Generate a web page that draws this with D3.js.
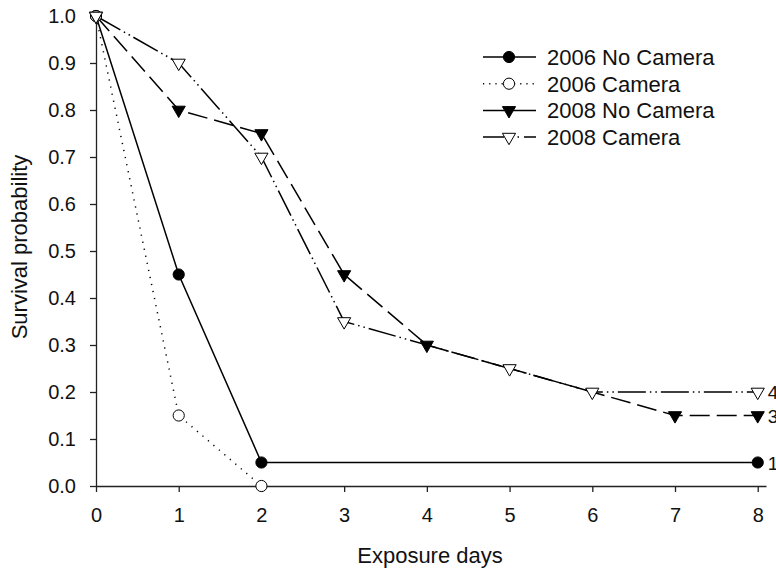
<!DOCTYPE html>
<meta charset="utf-8">
<style>
body { margin: 0; background: #fff; }
svg { font-family: "Liberation Sans", Arial, sans-serif; }
.axis path, .axis line { stroke: #222; stroke-width: 1.3px; }
.axis text { font-size: 20px; fill: #111; }
.series { fill: none; stroke: #000; stroke-width: 1.5px; }
.lbl { font-size: 22px; fill: #111; }
.end { font-size: 19px; fill: #111; }
</style>
<svg width="776" height="570"></svg>
<script src="https://d3js.org/d3.v7.min.js"></script>
<script>

// survival data
var noCam06 = [[0, 1.0], [1, 0.45], [2, 0.05], [8, 0.05]];
var cam06   = [[0, 1.0], [1, 0.15], [2, 0.0]];
var noCam08 = [[0, 1.0], [1, 0.80], [2, 0.75], [3, 0.45], [4, 0.30], [7, 0.15], [8, 0.15]];
var cam08   = [[0, 1.0], [1, 0.90], [2, 0.70], [3, 0.35], [5, 0.25], [6, 0.20], [8, 0.20]];
var seriesNames = ["2006 No Camera", "2006 Camera", "2008 No Camera", "2008 Camera"];
var endLabels = ["1", "", "3", "4"];
var xTicks = [0, 1, 2, 3, 4, 5, 6, 7, 8];
var yTicks = [0, 0.1, 0.2, 0.3, 0.4, 0.5, 0.6, 0.7, 0.8, 0.9, 1.0];

var svg = d3.select("svg");

var x = d3.scaleLinear().domain([0, 8.1]).range([96, 766]);
var y = d3.scaleLinear().domain([0, 1]).range([486, 16]);

var series = [
  { name: seriesNames[0], data: noCam06, dash: null, legDash: null, marker: "circle", fill: "#000", end: endLabels[0] },
  { name: seriesNames[1], data: cam06, dash: "1.2,6", legDash: "1.2,5", marker: "circle", fill: "#fff", end: endLabels[1] },
  { name: seriesNames[2], data: noCam08, dash: "20,7", legDash: null, marker: "tri", fill: "#000", end: endLabels[2] },
  { name: seriesNames[3], data: cam08, dash: "28,4,1.5,4,1.5,4", legDash: "21,7,1.5,5,1.5,5", marker: "tri", fill: "#fff", end: endLabels[3] }
];

// axes
svg.append("g")
    .attr("class", "axis")
    .attr("transform", "translate(0,486)")
    .call(d3.axisBottom(x).tickValues(xTicks).tickSize(6).tickPadding(16).tickSizeOuter(0).tickFormat(d3.format("d")));

svg.append("g")
    .attr("class", "axis")
    .attr("transform", "translate(96,0)")
    .call(d3.axisLeft(y).tickValues(yTicks).tickSize(6).tickPadding(14).tickSizeOuter(0).tickFormat(d3.format(".1f")));

svg.selectAll(".axis text").style("font-family", "Liberation Sans, Arial, sans-serif");

svg.append("text")
    .attr("class", "lbl")
    .attr("transform", "translate(27,247) rotate(-90)")
    .attr("text-anchor", "middle")
    .text("Survival probability");

svg.append("text")
    .attr("class", "lbl")
    .attr("x", 430)
    .attr("y", 563)
    .attr("text-anchor", "middle")
    .text("Exposure days");

var line = d3.line()
    .x(function(d) { return x(d[0]); })
    .y(function(d) { return y(d[1]); });

var tri = d3.symbol().type(d3.symbolTriangle).size(75);

function drawMarker(g, m, fill) {
  if (m == "circle") {
    g.append("circle").attr("r", 5.6)
      .attr("fill", fill).attr("stroke", "#000").attr("stroke-width", 1);
  } else {
    g.append("path").attr("d", tri).attr("transform", "rotate(180)")
      .attr("fill", fill).attr("stroke", "#000").attr("stroke-width", 1);
  }
}

series.forEach(function(s) {
  svg.append("path")
      .datum(s.data)
      .attr("class", "series")
      .attr("stroke-dasharray", s.dash)
      .attr("d", line);
});

series.forEach(function(s) {
  s.data.forEach(function(d) {
    var g = svg.append("g").attr("transform", "translate(" + x(d[0]) + "," + y(d[1]) + ")");
    drawMarker(g, s.marker, s.fill);
  });
  // index labels at the right end, clipped by the frame as in the original
  if (s.end) {
    var last = s.data[s.data.length - 1];
    svg.append("text")
        .attr("class", "end")
        .attr("x", x(last[0]) + 10)
        .attr("y", y(last[1]) + 7)
        .text(s.end);
  }
});

// legend
var legend = svg.append("g").attr("transform", "translate(483,57)");
series.forEach(function(s, i) {
  var g = legend.append("g").attr("transform", "translate(0," + (i * 26.7) + ")");
  g.append("line")
      .attr("x1", 0).attr("x2", 53)
      .attr("stroke", "#000").attr("stroke-width", 1.5)
      .attr("stroke-dasharray", s.legDash);
  var m = g.append("g").attr("transform", "translate(26,0)");
  drawMarker(m, s.marker, s.fill);
  g.append("text")
      .attr("class", "lbl")
      .attr("x", 64)
      .attr("y", 8)
      .text(s.name);
});

</script>
